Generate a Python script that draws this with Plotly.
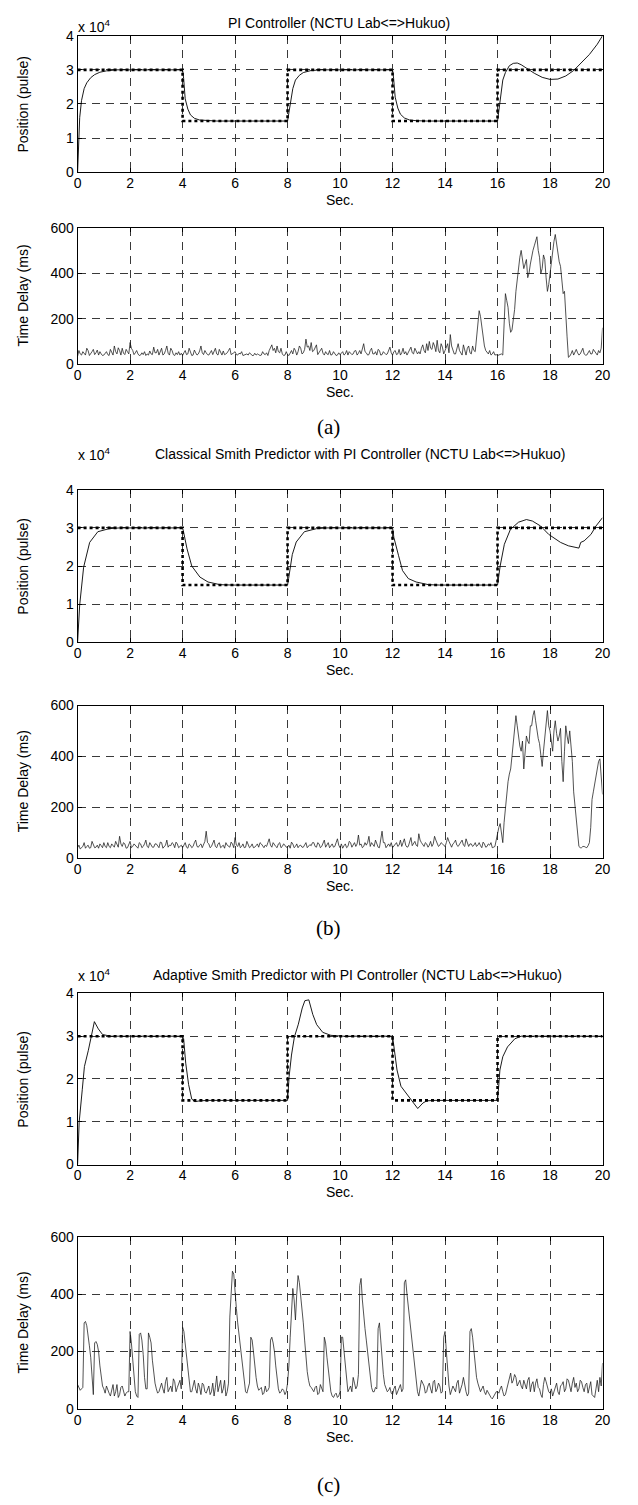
import plotly.graph_objects as go

# ---------------- data ----------------
x_ticks = [0, 2, 4, 6, 8, 10, 12, 14, 16, 18, 20]
pos_tickvals = [0, 1, 2, 3, 4]          # position in units of 1e4 pulses
pos_ticktext = ["0", "1", "2", "3", "4"]
delay_ticks = [0, 200, 400, 600]

# reference (setpoint) trajectory, x 1e4 pulses
setpoint_t = [0, 4, 4, 8, 8, 12, 12, 16, 16, 20]
setpoint_v = [3, 3, 1.5, 1.5, 3, 3, 1.5, 1.5, 3, 3]

# (a) PI controller response
pos_a_t = [0, 0.03, 0.08, 0.15, 0.25, 0.35, 0.5, 0.65, 0.85, 1.1, 1.5, 4.0, 4.04, 4.1, 4.2, 4.3, 4.45, 4.65,
           4.9, 5.3, 8.0, 8.05, 8.1, 8.2, 8.3, 8.45, 8.6, 8.9, 9.3, 12.0, 12.04, 12.1, 12.2, 12.3, 12.45, 12.65,
           12.9, 13.3, 16.0, 16.05, 16.12, 16.2, 16.3, 16.45, 16.6, 16.75, 16.9, 17.1, 17.4, 17.7, 18.0, 18.3,
           18.6, 18.9, 19.2, 19.5, 19.8, 20.0]
pos_a_v = [0, 0.8, 1.6, 2.1, 2.45, 2.62, 2.77, 2.86, 2.93, 2.97, 3.0, 3.0, 2.75, 2.15, 1.85, 1.68, 1.58, 1.53,
           1.51, 1.5, 1.5, 1.72, 2.05, 2.45, 2.7, 2.84, 2.92, 2.98, 3.0, 3.0, 2.75, 2.2, 1.88, 1.7, 1.59, 1.53,
           1.51, 1.5, 1.5, 1.8, 2.35, 2.7, 2.92, 3.12, 3.19, 3.2, 3.15, 3.05, 2.9, 2.78, 2.72, 2.73,
           2.82, 2.98, 3.2, 3.45, 3.75, 4.0]

# (b) classical Smith predictor response
pos_b_t = [0, 0.08, 0.23, 0.46, 0.77, 1.2, 1.6, 4.0, 4.03, 4.17, 4.35, 4.66, 4.97, 5.43, 5.9, 8.0, 8.04, 8.18,
           8.33, 8.64, 9.1, 9.5, 12.0, 12.05, 12.23, 12.38, 12.6, 12.9, 13.37, 13.8, 16.0, 16.1, 16.26, 16.49,
           16.8, 17.1, 17.33, 17.64, 17.95, 18.4, 18.7, 19.1, 19.17, 19.3, 19.56, 19.75, 20.0]
pos_b_v = [0, 0.98, 1.97, 2.62, 2.9, 2.98, 3.0, 3.0, 2.92, 2.45, 2.0, 1.71, 1.58, 1.51, 1.5, 1.5, 1.67, 2.3,
           2.63, 2.9, 2.98, 3.0, 3.0, 2.75, 2.27, 1.88, 1.67, 1.58, 1.51, 1.5, 1.5, 2.0, 2.57, 2.96,
           3.15, 3.22, 3.18, 3.05, 2.83, 2.62, 2.53, 2.47, 2.62, 2.66, 2.83, 3.05, 3.27]

# (c) adaptive Smith predictor response
pos_c_t = [0, 0.06, 0.18, 0.26, 0.41, 0.52, 0.64, 0.79, 0.95, 1.25, 4.0, 4.04, 4.12, 4.23, 4.35, 4.47, 4.66,
           5.0, 8.0, 8.06, 8.15, 8.26, 8.41, 8.56, 8.66, 8.81, 8.96, 9.11, 9.34, 9.65, 10.1, 12.0, 12.06,
           12.17, 12.32, 12.55, 12.78, 12.96, 13.16, 13.31, 13.62, 16.0, 16.04, 16.09, 16.2, 16.38, 16.66,
           16.9, 20.0]
pos_c_v = [0, 0.99, 1.76, 2.29, 2.67, 2.98, 3.34, 3.17, 3.04, 3.0, 3.0, 2.94, 2.37, 1.87, 1.53, 1.47, 1.49,
           1.5, 1.5, 2.06, 2.56, 2.98, 3.28, 3.66, 3.83, 3.85, 3.51, 3.27, 3.09, 3.02, 3.0, 3.0, 2.75,
           2.21, 1.83, 1.64, 1.45, 1.31, 1.44, 1.49, 1.5, 1.5, 1.8, 2.21, 2.52, 2.75, 2.94,
           3.0, 3.0]

# network time delay (ms): values at t = 0.0, 0.1, ..., 20.0 s
delay_a = [35, 45, 55, 40, 60, 45, 65, 50, 40, 45,
           40, 55, 38, 50, 80, 45, 60, 70, 42, 55,
           95, 60, 50, 45, 40, 42, 38, 40, 45, 75,
           50, 40, 70, 45, 80, 40, 60, 38, 42, 40,
           38, 60, 45, 55, 40, 50, 45, 80, 42, 50,
           40, 60, 55, 45, 65, 40, 42, 50, 70, 45,
           55, 40, 45, 38, 42, 40, 45, 38, 40, 42,
           40, 45, 50, 60, 85, 70, 80, 50, 45, 40,
           42, 50, 45, 60, 55, 70, 50, 110, 80, 95,
           60, 85, 50, 70, 40, 45, 60, 42, 45, 40,
           42, 55, 45, 40, 50, 45, 60, 48, 45, 90,
           50, 42, 70, 45, 40, 60, 42, 50, 45, 75,
           40, 60, 45, 40, 70, 55, 50, 75, 45, 60,
           55, 70, 60, 90, 100, 65, 80, 105, 50, 75,
           60, 90, 130, 60, 45, 90, 50, 85, 40, 80,
           45, 60, 120, 235, 160, 80, 50, 60, 45, 40,
           38, 42, 40, 310, 250, 140, 200, 320, 430, 500,
           420, 460, 400, 480, 520, 560, 470, 420, 460, 320,
           400, 500, 570, 480, 430, 310, 200, 30, 45, 40,
           65, 40, 55, 45, 40, 60, 45, 55, 40, 50,
           160]
# values at t = 0.05, 0.15, ..., 19.95 s
delay_a_mid = [60, 40, 48, 70, 38, 55, 42, 62, 55, 38,
               48, 42, 65, 40, 55, 72, 40, 48, 65, 45,
               70, 42, 60, 38, 50, 55, 45, 58, 42, 50,
               65, 55, 40, 60, 48, 70, 42, 50, 55, 48,
               50, 42, 70, 38, 62, 40, 58, 50, 60, 42,
               48, 42, 70, 40, 50, 58, 45, 60, 42, 50,
               42, 48, 55, 40, 45, 50, 38, 48, 45, 38,
               55, 42, 38, 75, 60, 50, 55, 70, 38, 55,
               38, 60, 70, 40, 80, 45, 65, 75, 60, 55,
               70, 42, 60, 48, 55, 42, 40, 55, 38, 50,
               50, 40, 60, 55, 42, 58, 40, 60, 70, 55,
               40, 60, 45, 55, 65, 40, 55, 42, 60, 50,
               55, 42, 65, 50, 45, 40, 60, 50, 70, 45,
               45, 85, 50, 60, 70, 95, 55, 60, 90, 45,
               75, 50, 80, 45, 70, 60, 40, 60, 70, 50,
               80, 55, 180, 210, 110, 60, 45, 40, 55, 42,
               40, 45, 200, 280, 180, 150, 240, 380, 470, 460,
               440, 380, 440, 500, 540, 500, 400, 480, 380, 350,
               450, 540, 530, 450, 380, 320, 120, 35, 60, 55,
               50, 45, 70, 40, 50, 45, 65, 45, 60, 70]

delay_b = [40, 35, 45, 38, 50, 40, 55, 42, 38, 48,
           60, 40, 45, 55, 42, 50, 85, 45, 55, 40,
           65, 45, 50, 38, 55, 45, 70, 40, 48, 42,
           55, 40, 60, 45, 70, 50, 60, 40, 55, 45,
           40, 60, 38, 50, 45, 70, 42, 55, 50, 105,
           55, 45, 70, 40, 60, 45, 38, 50, 42, 55,
           80, 45, 40, 55, 42, 50, 45, 40, 48, 42,
           55, 40, 45, 75, 42, 50, 40, 60, 45, 50,
           42, 38, 55, 45, 40, 50, 42, 60, 45, 48,
           60, 42, 55, 45, 70, 50, 40, 55, 45, 75,
           40, 38, 55, 45, 60, 50, 45, 90, 55, 45,
           50, 85, 60, 45, 55, 40, 105, 60, 50, 45,
           40, 55, 45, 70, 60, 50, 45, 80, 55, 50,
           95, 60, 45, 55, 50, 45, 85, 60, 50, 55,
           45, 80, 50, 55, 70, 45, 60, 50, 75, 45,
           55, 50, 45, 60, 40, 55, 45, 50, 40, 45,
           100, 135, 60, 200, 300, 350, 450, 560, 470, 420,
           350, 480, 450, 520, 580, 500, 450, 360, 470, 580,
           500, 420, 540, 460, 510, 300, 520, 450, 450, 260,
           150, 45, 40, 45, 40, 60, 230, 290, 360, 390,
           250]
delay_b_mid = [50, 42, 60, 45, 38, 65, 40, 50, 55, 40,
               45, 60, 40, 48, 65, 42, 55, 60, 38, 50,
               40, 55, 42, 60, 40, 55, 45, 60, 42, 55,
               45, 62, 38, 50, 42, 48, 55, 62, 40, 50,
               50, 42, 55, 40, 60, 45, 50, 40, 65, 60,
               40, 60, 45, 55, 40, 50, 60, 45, 62, 40,
               50, 60, 45, 40, 65, 40, 55, 42, 55, 60,
               45, 50, 60, 50, 60, 45, 55, 40, 55, 42,
               50, 62, 40, 55, 48, 42, 55, 40, 52, 60,
               45, 60, 40, 55, 42, 60, 48, 42, 60, 50,
               55, 48, 40, 65, 42, 60, 55, 50, 40, 60,
               60, 45, 50, 70, 42, 80, 60, 40, 55, 60,
               48, 60, 50, 45, 75, 42, 60, 48, 65, 45,
               70, 50, 60, 42, 65, 55, 70, 45, 60, 48,
               60, 65, 42, 60, 50, 55, 70, 45, 60, 55,
               45, 60, 50, 48, 62, 42, 55, 60, 42, 70,
               120, 90, 140, 260, 330, 400, 500, 520, 440, 460,
               420, 460, 520, 560, 540, 470, 400, 420, 530, 520,
               460, 500, 490, 480, 380, 420, 480, 500, 380, 200,
               90, 40, 45, 42, 48, 120, 260, 330, 380, 320]

delay_c = [85, 65, 75, 305, 260, 180, 50, 235, 200, 110,
           70, 80, 55, 70, 45, 85, 50, 80, 45, 60,
           270, 170, 60, 40, 265, 190, 70, 265, 230, 120,
           70, 60, 90, 55, 110, 70, 60, 95, 75, 100,
           285, 230, 150, 60, 85, 70, 90, 50, 85, 55,
           80, 60, 45, 115, 80, 55, 100, 60, 320, 480,
           400, 300, 220, 140, 60, 70, 250, 200, 110, 65,
           75, 55, 60, 75, 250, 200, 100, 55, 70, 50,
           90, 250, 420, 310, 465, 400, 300, 170, 100, 75,
           60, 80, 55, 70, 250, 180, 100, 45, 50, 40,
           60, 250, 150, 60, 80, 110, 70, 120, 455, 320,
           240, 160, 75, 60, 70, 300, 170, 85, 60, 75,
           50, 80, 60, 85, 70, 450, 360, 280, 190, 100,
           45, 100, 80, 60, 90, 55, 100, 70, 80, 60,
           270, 120, 50, 80, 60, 100, 70, 110, 60, 55,
           280, 200, 110, 75, 70, 60, 65, 45, 35, 50,
           60, 70, 60, 50, 80, 125, 100, 110, 90, 80,
           100, 70, 110, 85, 60, 105, 70, 40, 110, 80,
           55, 45, 70, 60, 80, 95, 70, 100, 60, 110,
           90, 70, 95, 60, 90, 80, 50, 40, 100, 110,
           160]
delay_c_mid = [75, 70, 300, 290, 220, 110, 230, 225, 150, 80,
               55, 65, 45, 85, 60, 40, 75, 60, 55, 60,
               230, 110, 45, 260, 240, 110, 70, 250, 170, 90,
               55, 80, 70, 95, 60, 80, 105, 60, 90, 70,
               270, 190, 90, 60, 100, 55, 75, 90, 60, 70,
               50, 90, 75, 60, 100, 70, 45, 90, 400, 470,
               350, 260, 180, 100, 55, 90, 240, 150, 80, 70,
               50, 80, 65, 240, 230, 150, 70, 60, 65, 60,
               150, 350, 380, 400, 440, 350, 240, 130, 80, 65,
               75, 50, 85, 60, 230, 140, 60, 40, 55, 45,
               250, 200, 90, 70, 60, 90, 80, 430, 380, 280,
               200, 110, 60, 75, 280, 240, 120, 70, 65, 55,
               70, 50, 75, 60, 440, 400, 320, 240, 140, 60,
               75, 90, 55, 80, 70, 95, 60, 90, 55, 250,
               200, 80, 65, 70, 90, 55, 85, 75, 45, 270,
               250, 150, 90, 60, 80, 50, 55, 40, 45, 60,
               55, 80, 45, 70, 100, 90, 120, 80, 100, 70,
               80, 100, 60, 95, 90, 75, 50, 85, 95, 60,
               70, 60, 90, 50, 85, 60, 105, 80, 90, 75,
               60, 100, 75, 85, 55, 95, 45, 70, 60, 80]

titles = ["PI Controller (NCTU Lab<=>Hukuo)",
          "Classical Smith Predictor with PI Controller (NCTU Lab<=>Hukuo)",
          "Adaptive Smith Predictor with PI Controller (NCTU Lab<=>Hukuo)"]
panel_labels = ["(a)", "(b)", "(c)"]


def merge(main, mid):
    """Interleave whole-step and half-step samples into one 0.05 s series."""
    out = []
    for k in range(len(mid)):
        out.append(main[k])
        out.append(mid[k])
    out.append(main[-1])
    return out


delay_series = [merge(delay_a, delay_a_mid), merge(delay_b, delay_b_mid), merge(delay_c, delay_c_mid)]
delay_t = [i * 0.05 for i in range(len(delay_series[0]))]

# ---------------- layout helpers ----------------
W, H = 638, 1505


def fx(p):
    return p / W


def fy(p):
    return 1 - p / H


X0, X1 = 75, 610
# (top, bottom) pixel rows of each axes box
boxes = [(28, 166), (222, 360), (487, 641), (705, 859), (996, 1169), (1242, 1416)]

SANS = "Liberation Sans, Arial, sans-serif"
SERIF = "Liberation Serif, Times New Roman, serif"

fig = go.Figure()

positions = [(pos_a_t, pos_a_v), (pos_b_t, pos_b_v), (pos_c_t, pos_c_v)]

for g in range(3):
    ip = 2 * g + 1
    idl = 2 * g + 2
    xs_p = "x" if ip == 1 else f"x{ip}"
    ys_p = "y" if ip == 1 else f"y{ip}"
    fig.add_trace(go.Scatter(x=setpoint_t, y=setpoint_v, mode="lines",
                             line=dict(color="black", width=2.6, dash="dot"),
                             xaxis=xs_p, yaxis=ys_p, hoverinfo="skip"))
    fig.add_trace(go.Scatter(x=positions[g][0], y=positions[g][1], mode="lines",
                             line=dict(color="black", width=0.9),
                             xaxis=xs_p, yaxis=ys_p, hoverinfo="skip"))
    fig.add_trace(go.Scatter(x=delay_t, y=delay_series[g], mode="lines",
                             line=dict(color="#1a1a1a", width=0.75),
                             xaxis=f"x{idl}", yaxis=f"y{idl}", hoverinfo="skip"))

axis_common = dict(showline=True, linecolor="black", linewidth=1, mirror="ticks",
                   ticks="inside", ticklen=4, tickcolor="black",
                   showgrid=True, gridcolor="#3a3a3a", gridwidth=1, griddash="8px,6px",
                   zeroline=False, tickfont=dict(family=SANS, size=14, color="black"))

layout = dict(width=W, height=H, margin=dict(l=0, r=0, t=0, b=0),
              paper_bgcolor="white", plot_bgcolor="white", showlegend=False)

annotations = []
for i, (top, bot) in enumerate(boxes, start=1):
    xk = "xaxis" if i == 1 else f"xaxis{i}"
    yk = "yaxis" if i == 1 else f"yaxis{i}"
    anchor_y = "y" if i == 1 else f"y{i}"
    anchor_x = "x" if i == 1 else f"x{i}"
    layout[xk] = dict(axis_common, domain=[fx(X0), fx(X1)], anchor=anchor_y,
                      range=[0, 20], tickvals=x_ticks, ticklabelstandoff=-2)
    if i % 2 == 1:
        layout[yk] = dict(axis_common, domain=[fy(bot), fy(top)], anchor=anchor_x,
                          range=[0, 4], tickvals=pos_tickvals, ticktext=pos_ticktext)
        ytitle = "Position (pulse)"
    else:
        layout[yk] = dict(axis_common, domain=[fy(bot), fy(top)], anchor=anchor_x,
                          range=[0, 600], tickvals=delay_ticks)
        ytitle = "Time Delay (ms)"
    annotations.append(dict(text=ytitle, x=fx(19), y=fy((top + bot) / 2), xref="paper", yref="paper",
                            textangle=-90, showarrow=False, xanchor="center", yanchor="middle",
                            font=dict(family=SANS, size=14, color="black")))
    annotations.append(dict(text="Sec.", x=fx((X0 + X1) / 2), y=fy(bot + 28), xref="paper", yref="paper",
                            showarrow=False, xanchor="center", yanchor="middle",
                            font=dict(family=SANS, size=14, color="black")))

title_pos = [(341, 15), (363, 451), (360, 977)]
mult_pos = [18, 451, 977]
label_pos = [424, 930, 1493]
for g in range(3):
    tx, ty = title_pos[g]
    annotations.append(dict(text=titles[g], x=fx(tx), y=fy(ty), xref="paper", yref="paper",
                            showarrow=False, xanchor="center", yanchor="middle",
                            font=dict(family=SANS, size=14, color="black")))
    annotations.append(dict(text="x 10<sup>4</sup>", x=fx(73), y=fy(mult_pos[g]), xref="paper", yref="paper",
                            showarrow=False, xanchor="left", yanchor="middle",
                            font=dict(family=SANS, size=14, color="black")))
    annotations.append(dict(text=panel_labels[g], x=fx(331), y=fy(label_pos[g]), xref="paper", yref="paper",
                            showarrow=False, xanchor="center", yanchor="middle",
                            font=dict(family=SERIF, size=21, color="black")))

layout["annotations"] = annotations
fig.update_layout(**layout)
fig.write_html("out.html", config={"displayModeBar": False, "staticPlot": True},
               post_script="document.body.style.margin='0';document.body.style.overflow='hidden';")
